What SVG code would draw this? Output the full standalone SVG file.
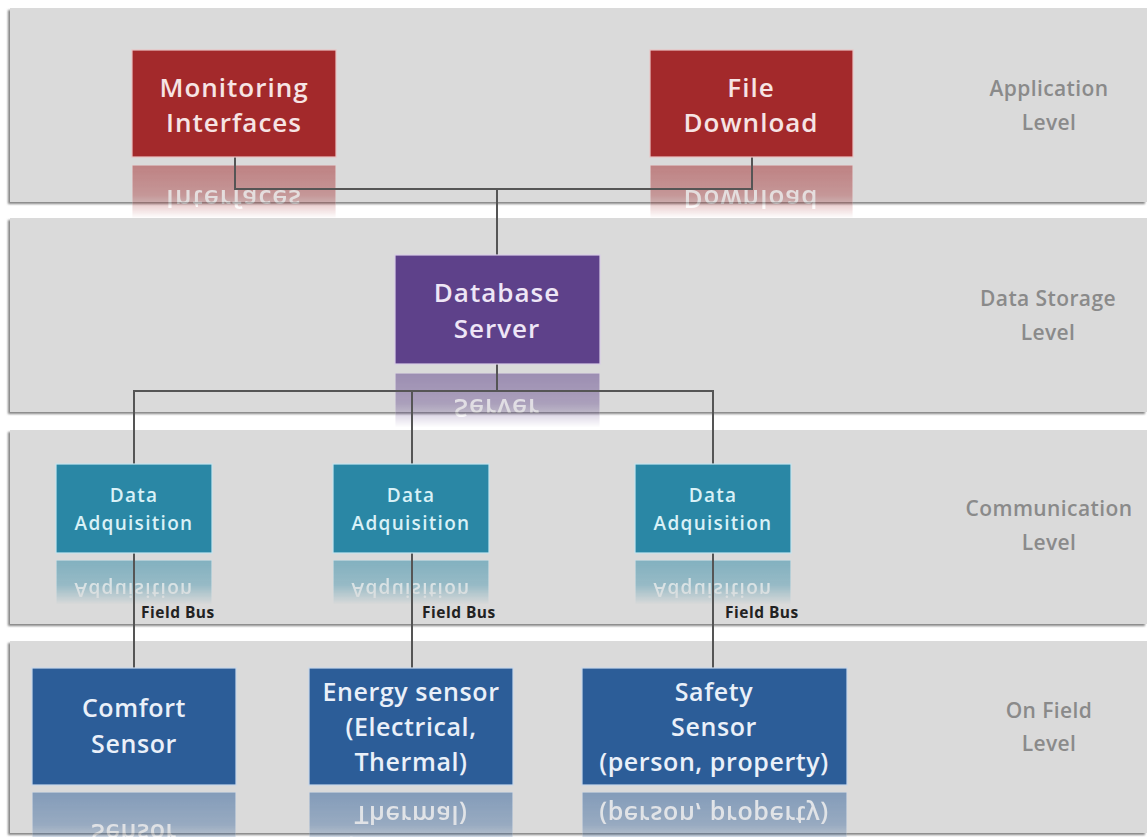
<svg xmlns="http://www.w3.org/2000/svg" xmlns:xlink="http://www.w3.org/1999/xlink" width="1147" height="837" viewBox="0 0 1147 837">
  <style>
    .band { fill: #dadada; filter: url(#bandShadow); }
    .lvl { font-family: "Open Sans", "DejaVu Sans", sans-serif; font-weight: 600; font-size: 21px; fill: #8a8a8a; text-anchor: middle; letter-spacing: 0.4px; }
    .bt { font-family: "Open Sans", "DejaVu Sans", sans-serif; font-weight: 600; text-anchor: middle; }
    .lg { font-size: 26px; letter-spacing: 1px; }
    .md { font-size: 19px; letter-spacing: 1.3px; }
    .sn { font-size: 25px; letter-spacing: 0.6px; }
    .red rect { fill: #a3292b; stroke: #e9c4c4; stroke-width: 1.2; }
    .red text { fill: #f6e4e4; }
    .purple rect { fill: #5e418a; stroke: #d9cde6; stroke-width: 1.2; }
    .purple text { fill: #eee6f6; }
    .teal rect { fill: #2a87a5; stroke: #c6e4ee; stroke-width: 1.2; }
    .teal text { fill: #d9f1f7; }
    .blue rect { fill: #2c5d98; stroke: #c9d7ea; stroke-width: 1.2; }
    .blue text { fill: #eaf0f9; }
    .conn { fill: none; stroke: #555; stroke-width: 2; }
    .bus { font-family: "Open Sans", "DejaVu Sans", sans-serif; font-weight: 700; font-size: 15.5px; letter-spacing: 0.5px; fill: #222; }
  </style>
  <defs>
    <filter id="bandShadow" x="-5%" y="-10%" width="110%" height="125%">
      <feDropShadow dx="-2" dy="2" stdDeviation="1.2" flood-color="#6e6e6e" flood-opacity="0.85"/>
    </filter>
    <linearGradient id="fadeGrad" x1="0" y1="0" x2="0" y2="1">
      <stop offset="0" stop-color="#fff" stop-opacity="0.5"/>
      <stop offset="0.28" stop-color="#fff" stop-opacity="0.38"/>
      <stop offset="0.5" stop-color="#fff" stop-opacity="0"/>
    </linearGradient>
    <mask id="fade" maskUnits="objectBoundingBox" maskContentUnits="objectBoundingBox" x="0" y="0" width="1" height="1">
      <rect width="1" height="1" fill="url(#fadeGrad)"/>
    </mask>
  </defs>

  <rect width="1147" height="837" fill="#ffffff"/>

  <!-- level bands -->
  <g id="bands">
    <rect class="band" x="10" y="8" width="1137" height="194"/>
    <rect class="band" x="10" y="218" width="1137" height="194"/>
    <rect class="band" x="10" y="430" width="1137" height="194"/>
    <rect class="band" x="10" y="641" width="1137" height="192"/>
  </g>

  <!-- mirrored reflections under each box -->
  <g id="reflections">
    <g mask="url(#fade)"><use xlink:href="#monitoring-body" transform="translate(0,322) scale(1,-1)"/></g>
    <g mask="url(#fade)"><use xlink:href="#download-body" transform="translate(0,322) scale(1,-1)"/></g>
    <g mask="url(#fade)"><use xlink:href="#database-body" transform="translate(0,737) scale(1,-1)"/></g>
    <g mask="url(#fade)"><use xlink:href="#daq1-body" transform="translate(0,1113) scale(1,-1)"/></g>
    <g mask="url(#fade)"><use xlink:href="#daq2-body" transform="translate(0,1113) scale(1,-1)"/></g>
    <g mask="url(#fade)"><use xlink:href="#daq3-body" transform="translate(0,1113) scale(1,-1)"/></g>
    <g mask="url(#fade)"><use xlink:href="#comfort-body" transform="translate(0,1577) scale(1,-1)"/></g>
    <g mask="url(#fade)"><use xlink:href="#energy-body" transform="translate(0,1577) scale(1,-1)"/></g>
    <g mask="url(#fade)"><use xlink:href="#safety-body" transform="translate(0,1577) scale(1,-1)"/></g>
  </g>

  <!-- connectors -->
  <g id="connectors">
    <path class="conn" d="M235,157 V189 H752 V157"/>
    <path class="conn" d="M497,189 V255"/>
    <path class="conn" d="M497,364 V391"/>
    <path class="conn" d="M134,668 V391 H713 V668"/>
    <path class="conn" d="M412,391 V668"/>
    <text class="bus" x="141" y="618">Field Bus</text>
    <text class="bus" x="422" y="618">Field Bus</text>
    <text class="bus" x="725" y="618">Field Bus</text>
  </g>

  <!-- application level -->
  <g id="monitoring-interfaces">
    <g id="monitoring-body" class="red">
      <rect x="132" y="50" width="204" height="107"/>
      <text class="bt lg" x="234" y="97">Monitoring</text>
      <text class="bt lg" x="234" y="132">Interfaces</text>
    </g>
  </g>
  <g id="file-download">
    <g id="download-body" class="red">
      <rect x="650" y="50" width="203" height="107"/>
      <text class="bt lg" x="751" y="97">File</text>
      <text class="bt lg" x="751" y="132">Download</text>
    </g>
  </g>

  <!-- data storage level -->
  <g id="database-server">
    <g id="database-body" class="purple">
      <rect x="395" y="255" width="205" height="109"/>
      <text class="bt lg" x="497" y="302">Database</text>
      <text class="bt lg" x="497" y="338">Server</text>
    </g>
  </g>

  <!-- communication level -->
  <g id="data-adquisition-1">
    <g id="daq1-body" class="teal">
      <rect x="56" y="464" width="156" height="89"/>
      <text class="bt md" x="134" y="502">Data</text>
      <text class="bt md" x="134" y="530">Adquisition</text>
    </g>
  </g>
  <g id="data-adquisition-2">
    <g id="daq2-body" class="teal">
      <rect x="333" y="464" width="156" height="89"/>
      <text class="bt md" x="411" y="502">Data</text>
      <text class="bt md" x="411" y="530">Adquisition</text>
    </g>
  </g>
  <g id="data-adquisition-3">
    <g id="daq3-body" class="teal">
      <rect x="635" y="464" width="156" height="89"/>
      <text class="bt md" x="713" y="502">Data</text>
      <text class="bt md" x="713" y="530">Adquisition</text>
    </g>
  </g>

  <!-- on field level -->
  <g id="comfort-sensor">
    <g id="comfort-body" class="blue">
      <rect x="32" y="668" width="204" height="117"/>
      <text class="bt sn" x="134" y="717">Comfort</text>
      <text class="bt sn" x="134" y="753">Sensor</text>
    </g>
  </g>
  <g id="energy-sensor">
    <g id="energy-body" class="blue">
      <rect x="309" y="668" width="204" height="117"/>
      <text class="bt sn" x="411" y="701">Energy sensor</text>
      <text class="bt sn" x="411" y="736">(Electrical,</text>
      <text class="bt sn" x="411" y="771">Thermal)</text>
    </g>
  </g>
  <g id="safety-sensor">
    <g id="safety-body" class="blue">
      <rect x="582" y="668" width="265" height="117"/>
      <text class="bt sn" x="714" y="701">Safety</text>
      <text class="bt sn" x="714" y="736">Sensor</text>
      <text class="bt sn" x="714" y="771">(person, property)</text>
    </g>
  </g>

  <!-- level captions -->
  <g id="level-labels">
    <text class="lvl" x="1049" y="96">Application</text>
    <text class="lvl" x="1049" y="130">Level</text>
    <text class="lvl" x="1048" y="306">Data Storage</text>
    <text class="lvl" x="1048" y="340">Level</text>
    <text class="lvl" x="1049" y="516">Communication</text>
    <text class="lvl" x="1049" y="550">Level</text>
    <text class="lvl" x="1049" y="718">On Field</text>
    <text class="lvl" x="1049" y="751">Level</text>
  </g>
</svg>
